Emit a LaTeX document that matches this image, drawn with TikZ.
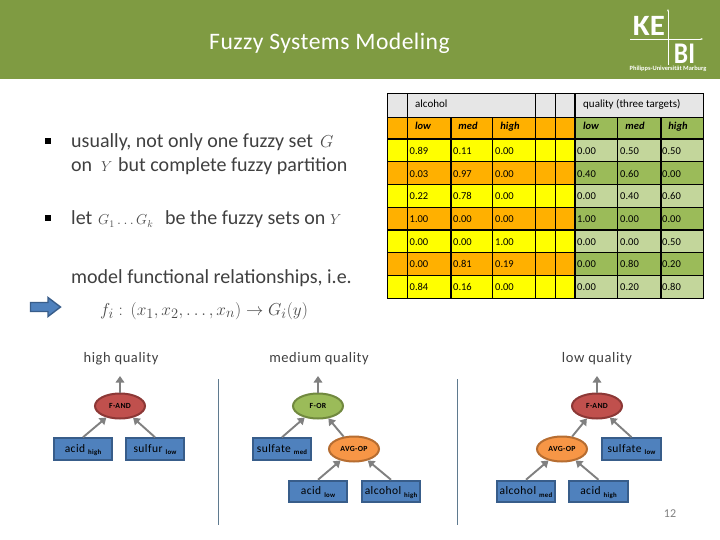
\documentclass[tikz,border=0pt]{standalone}
\usepackage{fontspec}
\setmainfont{Carlito}
\newfontfamily\spacedfont[LetterSpace=4]{Carlito}
\newfontfamily\titlefont[LetterSpace=2]{Carlito}
\usetikzlibrary{shapes.geometric,arrows.meta}
\definecolor{band}{HTML}{7F9B42}
\definecolor{ink}{HTML}{404040}
\definecolor{mathink}{HTML}{4A4A4A}
\definecolor{tgrey}{HTML}{E6E6E6}
\definecolor{torange}{HTML}{FFB000}
\definecolor{tyellow}{HTML}{FFFF00}
\definecolor{tgreen}{HTML}{9BBB59}
\definecolor{tlgreen}{HTML}{C3D69B}
\definecolor{boxfill}{HTML}{4F81BD}
\definecolor{boxline}{HTML}{385D8A}
\definecolor{redfill}{HTML}{C0504D}
\definecolor{redline}{HTML}{8C3836}
\definecolor{grnfill}{HTML}{9BBB59}
\definecolor{grnline}{HTML}{71893F}
\definecolor{orgfill}{HTML}{F79646}
\definecolor{orgline}{HTML}{B66D31}
\definecolor{divider}{HTML}{5F7A8F}
\tikzset{
 x=1pt,y=-1pt,
 leaf/.style={draw=boxline,fill=boxfill,line width=2pt,minimum width=58.5pt,minimum height=21.5pt,inner sep=0pt,text height=8pt,text depth=2pt,font=\spacedfont\fontsize{11.5}{12}\selectfont,text=black},
 opnode/.style={ellipse,line width=2pt,minimum width=50pt,minimum height=25pt,inner sep=0pt,text height=5pt,text depth=0pt,font=\spacedfont\bfseries\fontsize{7.8}{8}\selectfont,text=black},
 andop/.style={opnode,draw=redline,fill=redfill},
 orop/.style={opnode,draw=grnline,fill=grnfill},
 avgop/.style={opnode,draw=orgline,fill=orgfill},
 link/.style={draw=gray,line width=1.9pt,-{Triangle[length=6.5pt,width=8.5pt]}},
 heading/.style={text=ink,font=\spacedfont\fontsize{14.5}{16}\selectfont,inner sep=0pt,anchor=base},
 bodytext/.style={text=ink,font=\fontsize{20}{24}\selectfont,inner sep=0pt,anchor=base west},
 cellv/.style={font=\fontsize{10.5}{11}\selectfont,text=black,inner sep=0pt,anchor=base west},
 cellh/.style={font=\bfseries\itshape\fontsize{10.5}{12}\selectfont,text=black,inner sep=0pt,anchor=base},
 tablehead/.style={font=\fontsize{11}{12}\selectfont,inner sep=0pt,anchor=base west,text=black},
 bullet/.style={fill=black,inner sep=0pt,minimum size=5.5pt},
 rule/.style={draw=divider,line width=0.9pt},
 mathlbl/.style={text=mathink,inner sep=0pt,anchor=base west},
 grid/.style={black,line width=1.5pt},
}
\newcommand{\lsub}[2]{#1\hspace{3pt}\raisebox{-2.5pt}{\bfseries\fontsize{6.8}{8}\selectfont #2}}
\begin{document}
\begin{tikzpicture}
\useasboundingbox (0,0) rectangle (720,540);
\fill[white] (0,0) rectangle (720,540);
\fill[band] (0,0) rectangle (720,79);
\node[text=white,font=\titlefont\fontsize{23.6}{26}\selectfont,inner sep=0pt] (title) at (329.5,43.5) {Fuzzy Systems Modeling};
% logo
\node[text=white,font=\bfseries\fontsize{29.5}{30}\selectfont,inner sep=0pt,anchor=base,xscale=1.05] (ke) at (649,36) {KE};
\node[text=white,font=\bfseries\fontsize{30}{30}\selectfont,inner sep=0pt,anchor=base,xscale=0.85] (bi) at (684.5,63.5) {BI};
\coordinate (vtop) at (668,9);
\coordinate (vbot) at (668,65);
\coordinate (hl) at (630,39);
\coordinate (hr) at (703,39);
\draw[white,line width=0.6pt,-{Stealth[length=2.5pt]}] (vbot) -- (vtop);
\draw[white,line width=0.6pt,-{Stealth[length=2.5pt]}] (hl) -- (hr);
\node[text=white,font=\bfseries\fontsize{6.4}{7}\selectfont,inner sep=0pt] (uni) at (668,69) {Philipps-Universität Marburg};
% body
\node[bullet] (b1) at (48,141) {};
\node[bodytext] (t1a) at (71,148) {usually, not only one fuzzy set};
\node[mathlbl,font=\fontsize{16}{17}\selectfont] (m1) at (320,148) {$G$};
\node[bodytext] (t1b) at (71,172) {on};
\node[mathlbl,font=\fontsize{15}{16}\selectfont] (m2) at (101,172) {$Y$};
\node[bodytext] (t1c) at (118,172) {but complete fuzzy partition};
\node[bullet] (b2) at (48,218) {};
\node[bodytext] (t2a) at (71,225) {let};
\node[mathlbl,font=\fontsize{14.5}{16}\selectfont] (m3) at (98,225) {$G_1\ldots G_k$};
\node[bodytext] (t2b) at (165,225) {be the fuzzy sets on};
\node[mathlbl,font=\fontsize{15}{16}\selectfont] (m4) at (330,225) {$Y$};
\node[bodytext] (t3) at (71,283) {model functional relationships, i.e.};
\node[mathlbl,font=\fontsize{19}{21}\selectfont] (m5) at (100,315) {$f_i:\,(x_1,x_2,\ldots,x_n)\rightarrow G_i(y)$};
\draw[fill=boxfill,draw=boxline,line width=1.4pt,line join=miter] (30.5,302.5) -- (48,302.5) -- (48,297.5) -- (60.5,307) -- (48,316.5) -- (48,311.5) -- (30.5,311.5) -- cycle;
% table
\fill[tgrey] (387.3,93.3) rectangle (703.3,117.3);
\foreach \ya/\yb/\cl/\cr in {117.3/139/torange/tgreen,139/161.7/tyellow/tlgreen,161.7/184.3/torange/tgreen,184.3/207.3/tyellow/tlgreen,207.3/230/torange/tgreen,230/252.7/tyellow/tlgreen,252.7/275.7/torange/tgreen,275.7/298.3/tyellow/tlgreen}{
 \fill[\cl] (387.3,\ya) rectangle (575,\yb);
 \fill[\cr] (575,\ya) rectangle (703.3,\yb);
}
\draw[grid] (387.3,93.3) rectangle (703.3,298.3);
\foreach \y in {117.3,139,161.7,184.3,207.3,230,252.7,275.7} \draw[grid] (387.3,\y) -- (703.3,\y);
\foreach \x in {407.7,535.7,555.7,575} \draw[grid] (\x,93.3) -- (\x,298.3);
\foreach \x in {451,492.7,617.7,661} \draw[grid] (\x,117.3) -- (\x,298.3);
\node[tablehead] (halc) at (415,107.7) {alcohol};
\node[tablehead] (hqual) at (583,107.7) {quality (three targets)};
\foreach \x/\t in {423/low,468/med,510/high,591/low,635/med,678/high}
 \node[cellh] at (\x,130) {\t};
\foreach \y/\a/\b/\c/\d/\e/\f in {
 154.3/0.89/0.11/0.00/0.00/0.50/0.50,
 177.7/0.03/0.97/0.00/0.40/0.60/0.00,
 199.7/0.22/0.78/0.00/0.00/0.40/0.60,
 222.7/1.00/0.00/0.00/1.00/0.00/0.00,
 245.7/0.00/0.00/1.00/0.00/0.00/0.50,
 267.7/0.00/0.81/0.19/0.00/0.80/0.20,
 290.7/0.84/0.16/0.00/0.00/0.20/0.80}{
 \node[cellv] at (409.5,\y) {\a};
 \node[cellv] at (453,\y) {\b};
 \node[cellv] at (495,\y) {\c};
 \node[cellv] at (577,\y) {\d};
 \node[cellv] at (620,\y) {\e};
 \node[cellv] at (662,\y) {\f};
}
% trees
\node[heading] (hq) at (121,362) {high quality};
\node[heading] (mq) at (319,362) {medium quality};
\node[heading] (lq) at (597,362) {low quality};
\coordinate (d1t) at (218,379);
\coordinate (d1b) at (218,525);
\coordinate (d2t) at (457,379);
\coordinate (d2b) at (457,525);
\draw[rule] (d1t) -- (d1b);
\draw[rule] (d2t) -- (d2b);
% high
\node[andop] (a1) at (120,406) {F-AND};
\node[leaf] (l1) at (83,449) {\lsub{acid}{high}};
\node[leaf] (l2) at (155,449) {\lsub{sulfur}{low}};
\coordinate (o1) at (120,376);
\draw[link] (a1) -- (o1);
\draw[link] (l1.north) -- (a1);
\draw[link] (l2.north) -- (a1);
% medium
\node[orop] (o2) at (318,406) {F-OR};
\node[leaf] (l3) at (282,449) {\lsub{sulfate}{med}};
\node[avgop] (v2) at (354,449) {AVG-OP};
\node[leaf] (l4) at (318,491.5) {\lsub{acid}{low}};
\node[leaf] (l5) at (391,491.5) {\lsub{alcohol}{high}};
\coordinate (oo2) at (318,376);
\draw[link] (o2) -- (oo2);
\draw[link] (l3.north) -- (o2);
\draw[link] (v2) -- (o2);
\draw[link] (l4.north) -- (v2);
\draw[link] (l5.north) -- (v2);
% low
\node[andop] (a3) at (597,406) {F-AND};
\node[avgop] (v3) at (562,449) {AVG-OP};
\node[leaf] (l6) at (631.5,449) {\lsub{sulfate}{low}};
\node[leaf] (l7) at (526,491.5) {\lsub{alcohol}{med}};
\node[leaf] (l8) at (598.5,491.5) {\lsub{acid}{high}};
\coordinate (o3) at (597,376);
\draw[link] (a3) -- (o3);
\draw[link] (v3) -- (a3);
\draw[link] (l6.north) -- (a3);
\draw[link] (l7.north) -- (v3);
\draw[link] (l8.north) -- (v3);
\node[text=gray,font=\fontsize{12}{14}\selectfont,inner sep=0pt] (pg) at (670,514) {12};
\end{tikzpicture}
\end{document}
